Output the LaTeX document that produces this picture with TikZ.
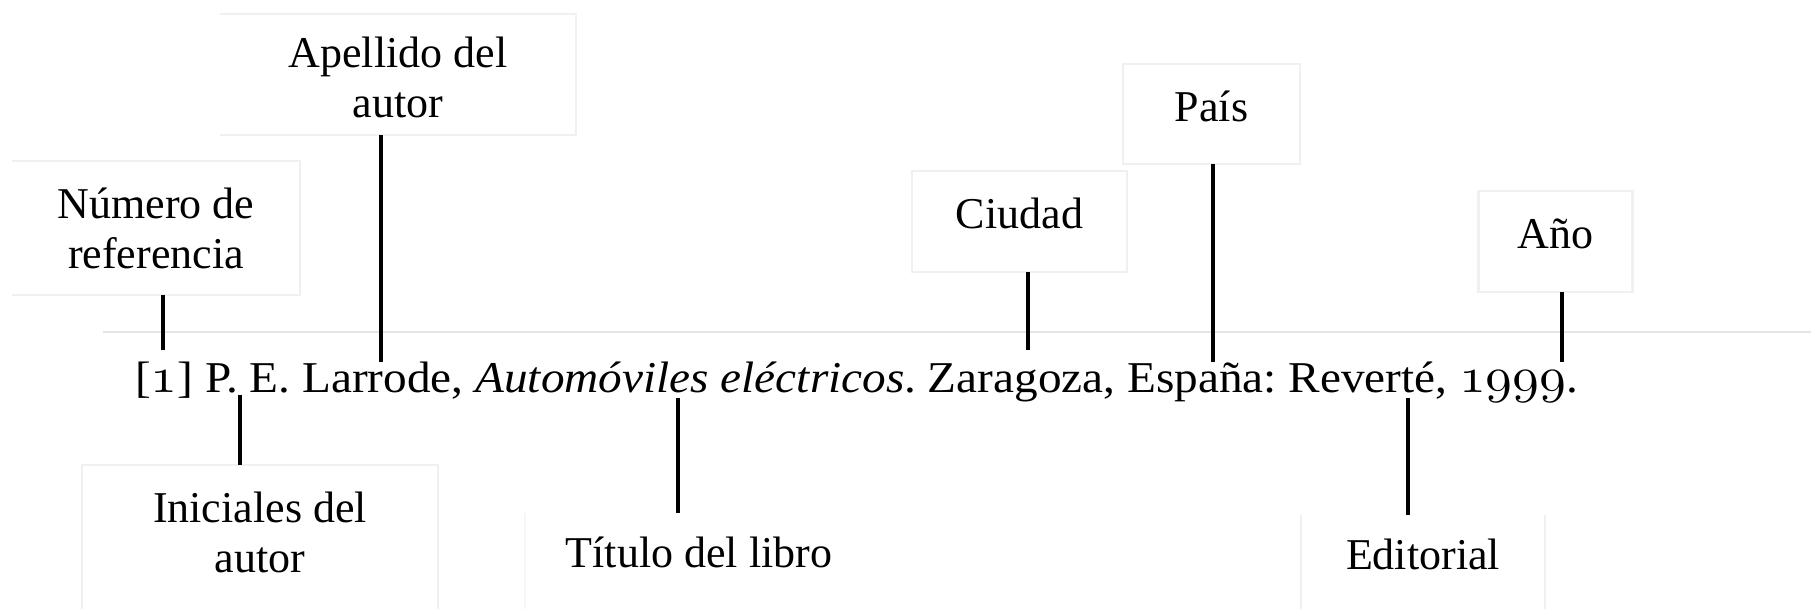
\documentclass[tikz,border=0pt]{standalone}
\usepackage{fontspec}
\setmainfont{Liberation Serif}
\usetikzlibrary{calc}
\DeclareFontFamily{OML}{oscm}{\skewchar\font=127 }
\DeclareFontShape{OML}{oscm}{m}{it}{<->cmmi10}{}
\newcommand\osn[1]{{\usefont{OML}{oscm}{m}{it}\fontsize{50}{50}\selectfont #1}}
\frenchspacing
\begin{document}
\begin{tikzpicture}[x=1pt,y=-1pt,
  txt/.style={font=\fontsize{44}{50}\selectfont},
  box/.style={txt, inner sep=0pt, align=center},
  one/.style={box, text depth=16pt},
  bord/.style={draw=gray!12, line width=2.5pt},
  conn/.style={draw=black, line width=3.5pt},
  rule/.style={draw=gray!20, line width=2.5pt}]
\useasboundingbox[fill=white] (0,0) rectangle (1811,609);

% horizontal rule
\draw[rule] (103,332) -- (1811,332);

% boxes
\node[box, minimum width=288pt, minimum height=134pt] (num) at (156,228) {Número de\\referencia};
\node[box, text height=87pt, minimum width=356pt, minimum height=121pt] (ape) at (398,74.5) {Apellido del\\autor};
\node[one, minimum width=215pt, minimum height=101pt] (ciu) at (1019.5,221.5) {Ciudad};
\node[one, minimum width=177pt, minimum height=100pt] (pais) at (1211.5,114) {País};
\node[one, minimum width=154pt, minimum height=101pt] (ano) at (1555.5,241.5) {Año};
\node[box, minimum width=356pt, minimum height=135pt] (ini) at (260,532.5) {Iniciales del\\autor};
\node[box, minimum width=348pt, minimum height=79pt] (tit) at (699,552.5) {Título del libro};
\node[box, minimum width=244pt, minimum height=79pt] (edi) at (1423,554.5) {Editorial};

% borders
\draw[bord] (num.north west) -- (num.north east) -- (num.south east) -- (num.south west);
\draw[bord] (ape.north west) -- (ape.north east) -- (ape.south east) -- (ape.south west);
\draw[bord] (ciu.north west) rectangle (ciu.south east);
\draw[bord] (pais.north west) rectangle (pais.south east);
\draw[bord] (ano.north west) rectangle (ano.south east);
\draw[bord] ($(ini.south west)+(0,20)$) -- (ini.north west) -- (ini.north east) -- ($(ini.south east)+(0,20)$);
\draw[bord, draw=gray!7] (tit.north west) -- ($(tit.south west)+(0,25)$);
\draw[bord] (edi.north west) -- ($(edi.south west)+(0,25)$);
\draw[bord] (edi.north east) -- ($(edi.south east)+(0,25)$);

% reference line
\node[txt, anchor=base west, inner sep=0pt] (ref) at (135,392)
  {\resizebox{1443pt}{\height}{[\osn{1}] P. E. Larrode, \textit{Automóviles eléctricos}. Zaragoza, España: Reverté, \osn{1999}.}};

% connector end points on the reference text
\coordinate (kn) at (163,350);
\coordinate (ka) at (381,362);
\coordinate (kc) at (1028,350);
\coordinate (kp) at (1213,362);
\coordinate (ky) at (1562,362);
\coordinate (ki) at (240,395);
\coordinate (kt) at (678,398);
\coordinate (ke) at (1408,398);

% connectors
\draw[conn] (num.south -| kn) -- (kn);
\draw[conn] (ape.south -| ka) -- (ka);
\draw[conn] (ciu.south -| kc) -- (kc);
\draw[conn] (pais.south -| kp) -- (kp);
\draw[conn] (ano.south -| ky) -- (ky);
\draw[conn] (ki) -- (ini.north -| ki);
\draw[conn] (kt) -- (tit.north -| kt);
\draw[conn] (ke) -- (edi.north -| ke);
\end{tikzpicture}
\end{document}
